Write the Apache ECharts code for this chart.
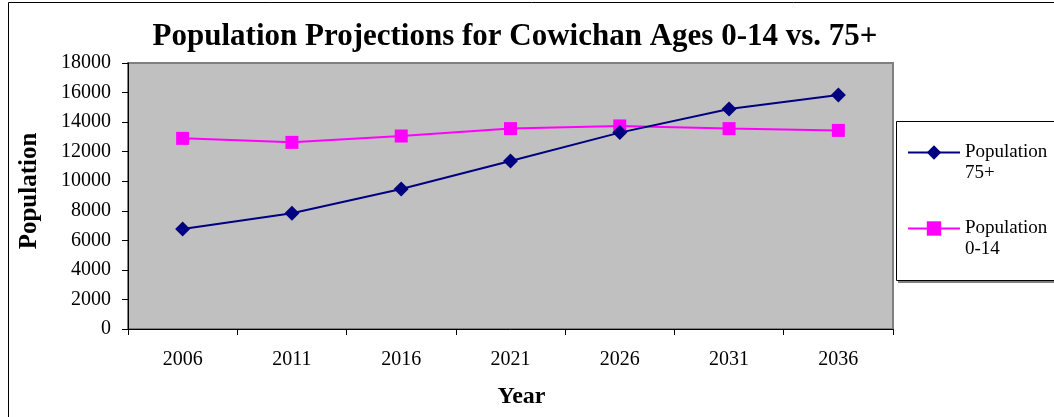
<!DOCTYPE html>
<html>
<head>
<meta charset="utf-8">
<script src="https://cdn.jsdelivr.net/npm/echarts@6/dist/echarts.min.js"></script>
<style>
html,body{margin:0;padding:0;background:#fff;}
#c{width:1054px;height:417px;}
</style>
</head>
<body>
<div id="c"></div>
<script>
const years = ['2006','2011','2016','2021','2026','2031','2036'];
const pop75 = [6770, 7830, 9470, 11370, 13290, 14890, 15840];
const pop014 = [12900, 12630, 13060, 13560, 13740, 13560, 13440];
const yTicks = { min: 0, max: 18000, interval: 2000 };
const titleText = 'Population Projections for Cowichan Ages 0-14 vs. 75+';
const seriesNames = ['Population 75+', 'Population 0-14'];

const font = '"Liberation Serif","Times New Roman",serif';
const chart = echarts.init(document.getElementById('c'));
chart.setOption({
  animation: false,
  backgroundColor: '#ffffff',
  title: {
    text: titleText,
    left: 510, top: 16, textAlign: 'center',
    textStyle: { fontFamily: font, fontWeight: 'bold', fontSize: 31, color: '#000' }
  },
  grid: { left: 128, top: 63, right: 161, bottom: 88, show: true, backgroundColor: '#C0C0C0', borderColor: '#808080', borderWidth: 2 },
  legend: {
    orient: 'vertical',
    left: 907, top: 121, padding: 0,
    itemWidth: 52, itemHeight: 18, itemGap: 13,
    formatter: function (n) { return '\n' + n.replace(' ', '\n'); },
    textStyle: { fontFamily: font, fontSize: 19, color: '#000', lineHeight: 21 },
    data: seriesNames
  },
  graphic: [
    { type: 'rect', shape: { x: 8.5, y: 2.5, width: 1100, height: 500 }, style: { fill: 'none', stroke: '#000', lineWidth: 1 }, silent: true, z: 0 },
    { type: 'rect', shape: { x: 898, y: 124, width: 200, height: 159 }, style: { fill: '#808080' }, z: 1, silent: true },
    { type: 'rect', shape: { x: 896.5, y: 121.5, width: 200, height: 159 }, style: { fill: '#fff', stroke: '#000', lineWidth: 1 }, z: 2, silent: true }
  ],
  xAxis: {
    type: 'category',
    data: years,
    boundaryGap: true,
    name: 'Year',
    nameLocation: 'middle',
    nameGap: 56,
    nameTextStyle: { fontFamily: font, fontWeight: 'bold', fontSize: 24, color: '#000', padding: [0, 0, 0, 22] },
    axisLine: { lineStyle: { color: '#000', width: 1 } },
    axisTick: { show: true, alignWithLabel: false, length: 6, lineStyle: { color: '#000' } },
    axisLabel: { fontFamily: font, fontSize: 20, color: '#000', margin: 21 },
    splitLine: { show: false }
  },
  yAxis: {
    type: 'value',
    min: yTicks.min, max: yTicks.max, interval: yTicks.interval,
    name: 'Population',
    nameLocation: 'middle',
    nameGap: 86,
    nameRotate: 90,
    nameTextStyle: { fontFamily: font, fontWeight: 'bold', fontSize: 25, color: '#000', padding: [0, 0, 0, 10] },
    axisLine: { show: true, lineStyle: { color: '#000', width: 1 } },
    axisTick: { show: true, length: 6, lineStyle: { color: '#000' } },
    axisLabel: { fontFamily: font, fontSize: 20, color: '#000', margin: 17, formatter: function (v) { return String(v); } },
    splitLine: { show: false }
  },
  series: [
    {
      name: seriesNames[0], type: 'line', data: pop75,
      symbol: 'diamond', symbolSize: 15,
      lineStyle: { color: '#000080', width: 2 },
      itemStyle: { color: '#000080' },
      z: 3
    },
    {
      name: seriesNames[1], type: 'line', data: pop014,
      symbol: 'rect', symbolSize: 13,
      lineStyle: { color: '#FF00FF', width: 2 },
      itemStyle: { color: '#FF00FF' },
      z: 2
    }
  ]
});
</script>
</body>
</html>
